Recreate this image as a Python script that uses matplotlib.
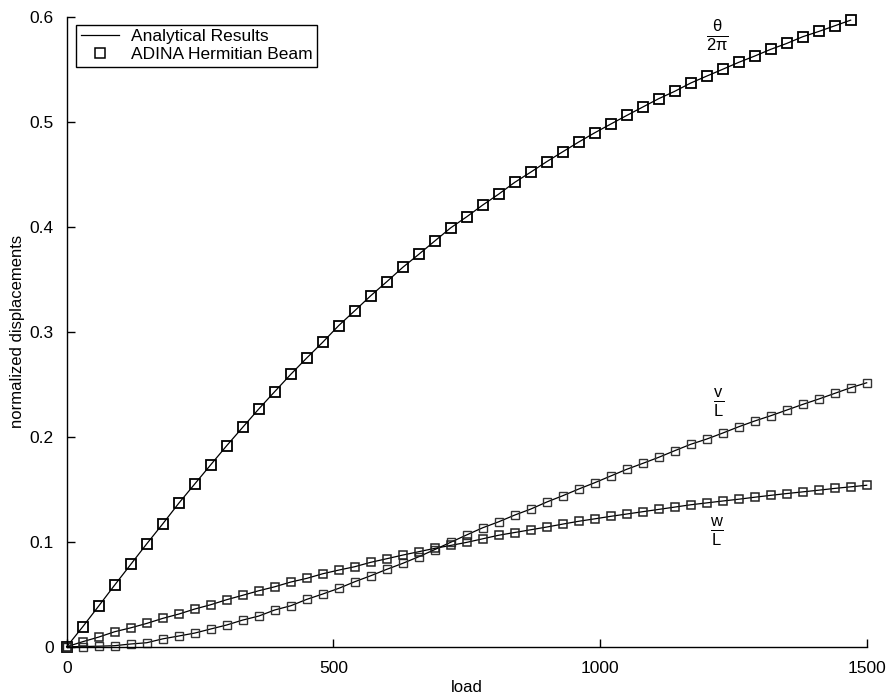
import numpy as np
import matplotlib
matplotlib.use("Agg")
import matplotlib.pyplot as plt
from matplotlib.lines import Line2D

plt.rcParams['font.family'] = ['Liberation Sans', 'DejaVu Sans']
plt.rcParams['mathtext.fontset'] = 'custom'
plt.rcParams['mathtext.rm'] = 'Liberation Sans'
plt.rcParams['mathtext.it'] = 'Liberation Sans'
plt.rcParams['mathtext.sf'] = 'Liberation Sans'

# ---- data ----
load_theta = list(range(0, 1471, 30))
theta_2pi = [0.0, 0.019, 0.0388, 0.0588, 0.0784, 0.098, 0.117, 0.1366, 0.155, 0.1733,
             0.1915, 0.209, 0.2264, 0.243, 0.2594, 0.275, 0.290, 0.3059, 0.320, 0.3343,
             0.3476, 0.3613, 0.3737, 0.3864, 0.399, 0.4095, 0.4207, 0.4311, 0.4423, 0.452,
             0.462, 0.4714, 0.4807, 0.4895, 0.4978, 0.506, 0.514, 0.522, 0.529, 0.5369,
             0.5435, 0.550, 0.5566, 0.5626, 0.569, 0.5746, 0.581, 0.586, 0.5914, 0.5968]

load_vw = list(range(0, 1501, 30))
v_L = [0.0, 0.0002, 0.0005, 0.001, 0.0026, 0.0038, 0.0075, 0.0102, 0.013, 0.0169,
       0.0207, 0.0254, 0.0292, 0.035, 0.039, 0.0451, 0.0502, 0.0556, 0.0619, 0.0676,
       0.0737, 0.0794, 0.0857, 0.0925, 0.0995, 0.1065, 0.1133, 0.119, 0.1254, 0.1311,
       0.1378, 0.1438, 0.1502, 0.1562, 0.1626, 0.169, 0.1746, 0.1804, 0.1867, 0.1928,
       0.1978, 0.2035, 0.2095, 0.215, 0.22, 0.2254, 0.2308, 0.2359, 0.2413, 0.2467, 0.2514]
w_L = [0.0, 0.0048, 0.0092, 0.0143, 0.018, 0.0222, 0.027, 0.0311, 0.0359, 0.040,
       0.0448, 0.049, 0.0533, 0.0571, 0.0616, 0.0651, 0.0695, 0.073, 0.0762, 0.0804,
       0.0838, 0.0873, 0.0905, 0.0937, 0.0965, 0.0994, 0.1028, 0.1062, 0.1088, 0.1114,
       0.1140, 0.1168, 0.1195, 0.1218, 0.1242, 0.1264, 0.1286, 0.1308, 0.1330, 0.1352,
       0.1370, 0.1388, 0.1405, 0.1424, 0.1442, 0.1459, 0.1475, 0.1491, 0.1508, 0.1523, 0.1538]

xticks = [0, 500, 1000, 1500]
xticklabels = ['0', '500', '1000', '1500']
yticks = [0, 0.1, 0.2, 0.3, 0.4, 0.5, 0.6]
yticklabels = ['0', '0.1', '0.2', '0.3', '0.4', '0.5', '0.6']

# ---- figure ----
fig = plt.figure(figsize=(8.92, 7.0), dpi=100)
ax = fig.add_axes([0.0748, 0.0761, 0.8968, 0.8999])

ax.plot(load_theta, theta_2pi, color='black', lw=0.9, clip_on=False)
ax.plot(load_vw, v_L, color='black', lw=0.9, clip_on=False)
ax.plot(load_vw, w_L, color='black', lw=0.9, clip_on=False)

ax.plot(load_theta, theta_2pi, ls='none', marker='s', ms=7.0, mfc='none',
        mec='black', mew=1.3, clip_on=False)
ax.plot(load_vw, v_L, ls='none', marker='s', ms=6.3, mfc='none',
        mec='#333333', mew=1.0, clip_on=False)
ax.plot(load_vw, w_L, ls='none', marker='s', ms=6.3, mfc='none',
        mec='#222222', mew=1.1, clip_on=False)

ax.set_xlim(0, 1500)
ax.set_ylim(0, 0.6)
ax.set_xticks(xticks)
ax.set_xticklabels(xticklabels)
ax.set_yticks(yticks)
ax.set_yticklabels(yticklabels)
ax.tick_params(direction='in', length=6, width=1.0, labelsize=12.5, colors='black')
ax.tick_params(axis='x', pad=10)
ax.tick_params(axis='y', pad=9.5)

for s in ['top', 'right']:
    ax.spines[s].set_visible(False)
for s in ['left', 'bottom']:
    ax.spines[s].set_linewidth(1.0)

ax.set_xlabel('load', fontsize=12, labelpad=3)
ax.set_ylabel('normalized displacements', fontsize=12, labelpad=3)

ax.text(1219, 0.5826, r'$\frac{\theta}{2\pi}$', fontsize=17, ha='center', va='center')
ax.text(1223, 0.2321, r'$\frac{\mathrm{v}}{\mathrm{L}}$', fontsize=17, ha='center', va='center')
ax.text(1219, 0.1092, r'$\frac{\mathrm{w}}{\mathrm{L}}$', fontsize=17, ha='center', va='center')

handles = [Line2D([], [], color='black', lw=0.9),
           Line2D([], [], ls='none', marker='s', ms=6.5, mfc='none', mec='black', mew=1.1)]
leg = ax.legend(handles, ['Analytical Results', 'ADINA Hermitian Beam'],
                loc='upper left', bbox_to_anchor=(0.012, 0.987), borderaxespad=0,
                fancybox=False, framealpha=1, edgecolor='black', fontsize=12.5,
                handlelength=2.2, handletextpad=0.7, borderpad=0.25, labelspacing=0.15)
leg.get_frame().set_linewidth(1.0)

fig.savefig('out.png', dpi=100)
